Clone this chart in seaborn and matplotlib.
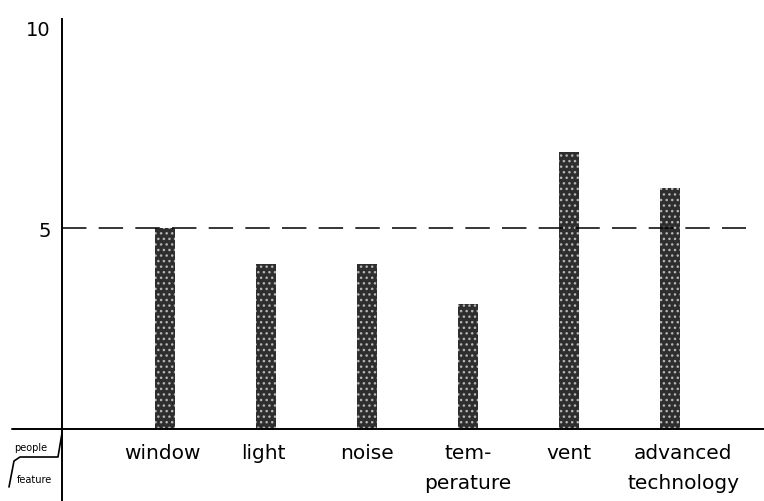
import matplotlib
matplotlib.use("Agg")
import matplotlib.pyplot as plt
import seaborn as sns
import pandas as pd
from matplotlib.lines import Line2D

# values
features = ["window", "light", "noise", "temperature", "vent", "advanced technology"]
people = [5.0, 4.1, 4.1, 3.1, 6.9, 6.0]
labels = ["window", "light", "noise", "tem-\nperature", "vent", "advanced\ntechnology"]
label_shift = [-0.03, -0.03, 0.0, 0.0, 0.0, 0.13]
threshold = 5
yticks = [5, 10]

df = pd.DataFrame({"feature": features, "people": people})

sns.set_style("white")
plt.rcParams["font.family"] = ["DejaVu Sans"]

fig = plt.figure(figsize=(7.64, 5.02), dpi=100)
ax = fig.add_axes([62 / 764, 72 / 502, 702 / 764, 410 / 502])

sns.barplot(data=df, x="feature", y="people", ax=ax, width=0.2,
            color="#2e2e2e", edgecolor="#b5b5b5", linewidth=0, hatch="...")

ax.axhline(threshold, xmin=0, xmax=0.975, color="black", lw=1.1,
           dashes=(16, 8))

ax.set_xlim(-1.02, 5.93)
ax.set_ylim(0, 10.2)
ax.set_yticks(yticks)
ax.set_yticklabels([str(t) for t in yticks], fontsize=14, color="black")
ax.tick_params(axis="y", length=0, pad=8)
ax.set_xticks([])
ax.set_xlabel("")
ax.set_ylabel("")
for s in ["top", "right", "bottom"]:
    ax.spines[s].set_visible(False)
ax.spines["left"].set_linewidth(1.4)
ax.spines["left"].set_color("black")

for i, (lab, dx) in enumerate(zip(labels, label_shift)):
    ax.text(i + dx, -0.35, lab, ha="center", va="top", fontsize=14.5,
            color="black", linespacing=1.75, clip_on=False)

# axis lines running past the origin, like in the drawing
fig.add_artist(Line2D([12 / 764, 1], [72 / 502, 72 / 502], color="black", lw=1.4))
fig.add_artist(Line2D([62 / 764, 62 / 764], [0, 72 / 502], color="black", lw=1.4))

# little corner key: people / feature
px = [9, 14, 20, 58, 62]
py = [14, 40, 44, 44, 68]
fig.add_artist(Line2D([x / 764 for x in px], [y / 502 for y in py], color="black", lw=1.2))
fig.text(14 / 764, 54 / 502, "people", fontsize=7, va="center", color="black")
fig.text(17 / 764, 22 / 502, "feature", fontsize=7, va="center", color="black")

fig.savefig("out.png", dpi=100)
